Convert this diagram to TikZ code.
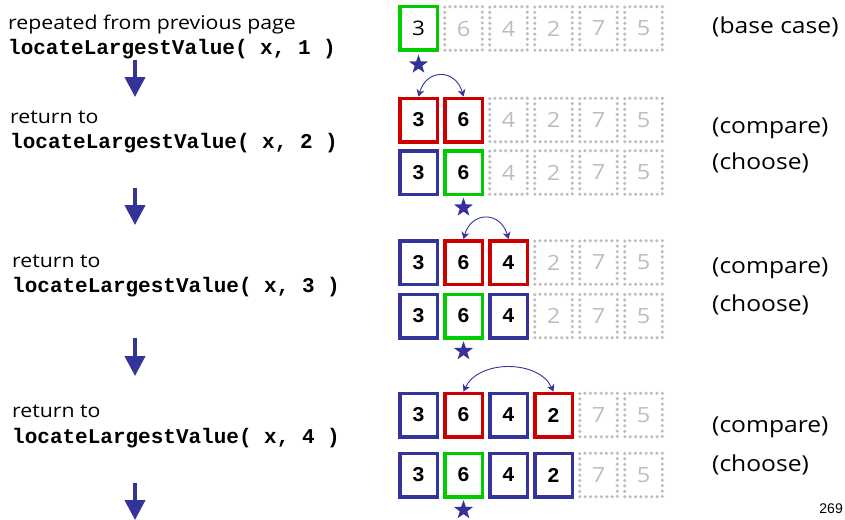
\documentclass[tikz,border=0pt]{standalone}
\usepackage{fontspec}
\setmainfont{Open Sans}[FakeStretch=1.12]
\setmonofont{Liberation Mono}
\newfontfamily\pagefont{Liberation Sans}
\usetikzlibrary{positioning, arrows.meta, shapes.geometric}
\definecolor{recBlue}{HTML}{333399}
\definecolor{recRed}{HTML}{CC0000}
\definecolor{recGreen}{HTML}{00CC00}
\definecolor{recGrey}{HTML}{BDBDBD}
% one row of the array: name, y, list of cell styles
\newcommand{\cellrow}[3]{%
  \foreach \st [count=\ci from 0] in {#3} {
    \pgfmathtruncatemacro{\cv}{{3,6,4,2,7,5}[\ci]}
    \node[\st] (#1-\ci) at (418.5+45*\ci, #2) {\cv};
  }}

\begin{document}
\begin{tikzpicture}[x=1pt, y=-1pt,
  cell/.style={minimum width=37.5pt, minimum height=43.5pt, inner sep=0pt, line width=3.5pt,
    font=\ttfamily\bfseries\fontsize{21}{21}\selectfont},
  bcell/.style={cell, draw=recBlue},
  rcell/.style={cell, draw=recRed},
  gcell/.style={cell, draw=recGreen},
  gcellsf/.style={gcell, font=\fontsize{20}{20}\selectfont},
  idlecell/.style={cell, draw=recGrey, text=recGrey, line width=3.5pt, dash pattern=on 0pt off 5.4pt,
    line cap=round, minimum width=37.5pt, minimum height=43.5pt, font=\fontsize{21}{21}\selectfont},
  starmark/.style={star, star points=5, star point ratio=2.5, fill=recBlue, minimum size=20pt, inner sep=0pt},
  swap/.style={{Stealth[length=7pt, width=8pt]}-{Stealth[length=7pt, width=8pt]}, draw=recBlue, line width=0.9pt},
  down/.style={-{Triangle[length=20pt, width=20pt]}, draw=recBlue, fill=recBlue, line width=4pt},
  note/.style={anchor=base west, inner sep=0pt, font=\fontsize{19}{19}\selectfont},
  code/.style={anchor=base west, inner sep=0pt, font=\ttfamily\bfseries\fontsize{21}{21}\selectfont},
  tagnote/.style={anchor=west, inner sep=0pt, font=\fontsize{22}{22}\selectfont}]
  \useasboundingbox (0,0) rectangle (845,519);
  % left column: calls
  \node[note] (t1) at (8,30) {repeated from previous page};
  \node[code] (c1) at (8,55) {locateLargestValue( x, 1 )};
  \node[note] (t2) at (10,123) {return to};
  \node[code] (c2) at (10,148) {locateLargestValue( x, 2 )};
  \node[note] (t3) at (12,267) {return to};
  \node[code] (c3) at (12,292) {locateLargestValue( x, 3 )};
  \node[note] (t4) at (12,417) {return to};
  \node[code] (c4) at (12,443) {locateLargestValue( x, 4 )};
  \coordinate (a1s) at (135,60);  \coordinate (a1e) at (135,97);
  \coordinate (a2s) at (135,188); \coordinate (a2e) at (135,225);
  \coordinate (a3s) at (135,338); \coordinate (a3e) at (135,376);
  \coordinate (a4s) at (135,483); \coordinate (a4e) at (135,520);
  \foreach \k in {1,...,4} \draw[down] (a\k s) -- (a\k e);
  % array rows
  \cellrow{r1}{28.5}{gcellsf,idlecell,idlecell,idlecell,idlecell,idlecell}
  \cellrow{r2}{120}{rcell,rcell,idlecell,idlecell,idlecell,idlecell}
  \cellrow{r3}{172.5}{bcell,gcell,idlecell,idlecell,idlecell,idlecell}
  \cellrow{r4}{262.5}{bcell,rcell,rcell,idlecell,idlecell,idlecell}
  \cellrow{r5}{316}{bcell,gcell,bcell,idlecell,idlecell,idlecell}
  \cellrow{r6}{415}{bcell,rcell,bcell,rcell,idlecell,idlecell}
  \cellrow{r7}{475}{bcell,gcell,bcell,bcell,idlecell,idlecell}
  % current largest
  \node[starmark, below=2pt of r1-0] (s1) {};
  \node[starmark, below=1pt of r3-1] (s3) {};
  \node[starmark, below=1pt of r5-1] (s5) {};
  \node[starmark, below=1pt of r7-1] (s7) {};
  % comparisons
  \draw[swap] (r2-0.north) .. controls ([xshift=8pt, yshift=28pt]r2-0.north) and ([xshift=-8pt, yshift=28pt]r2-1.north) .. (r2-1.north);
  \draw[swap] (r4-1.north) .. controls ([xshift=8pt, yshift=28pt]r4-1.north) and ([xshift=-8pt, yshift=28pt]r4-2.north) .. (r4-2.north);
  \draw[swap] (r6-1.north) .. controls ([xshift=15pt, yshift=32pt]r6-1.north) and ([xshift=-15pt, yshift=32pt]r6-3.north) .. (r6-3.north);
  % right column
  \node[tagnote] (l1) at (712,27) {(base case)};
  \node[tagnote] (l2) at (712,128) {(compare)};
  \node[tagnote] (l3) at (712,163) {(choose)};
  \node[tagnote] (l4) at (712,268) {(compare)};
  \node[tagnote] (l5) at (712,305) {(choose)};
  \node[tagnote] (l6) at (712,427) {(compare)};
  \node[tagnote] (l7) at (712,465) {(choose)};
  \node[anchor=base east, inner sep=0pt, font=\pagefont\fontsize{14}{14}\selectfont] (pg) at (843,513) {269};
\end{tikzpicture}
\end{document}
